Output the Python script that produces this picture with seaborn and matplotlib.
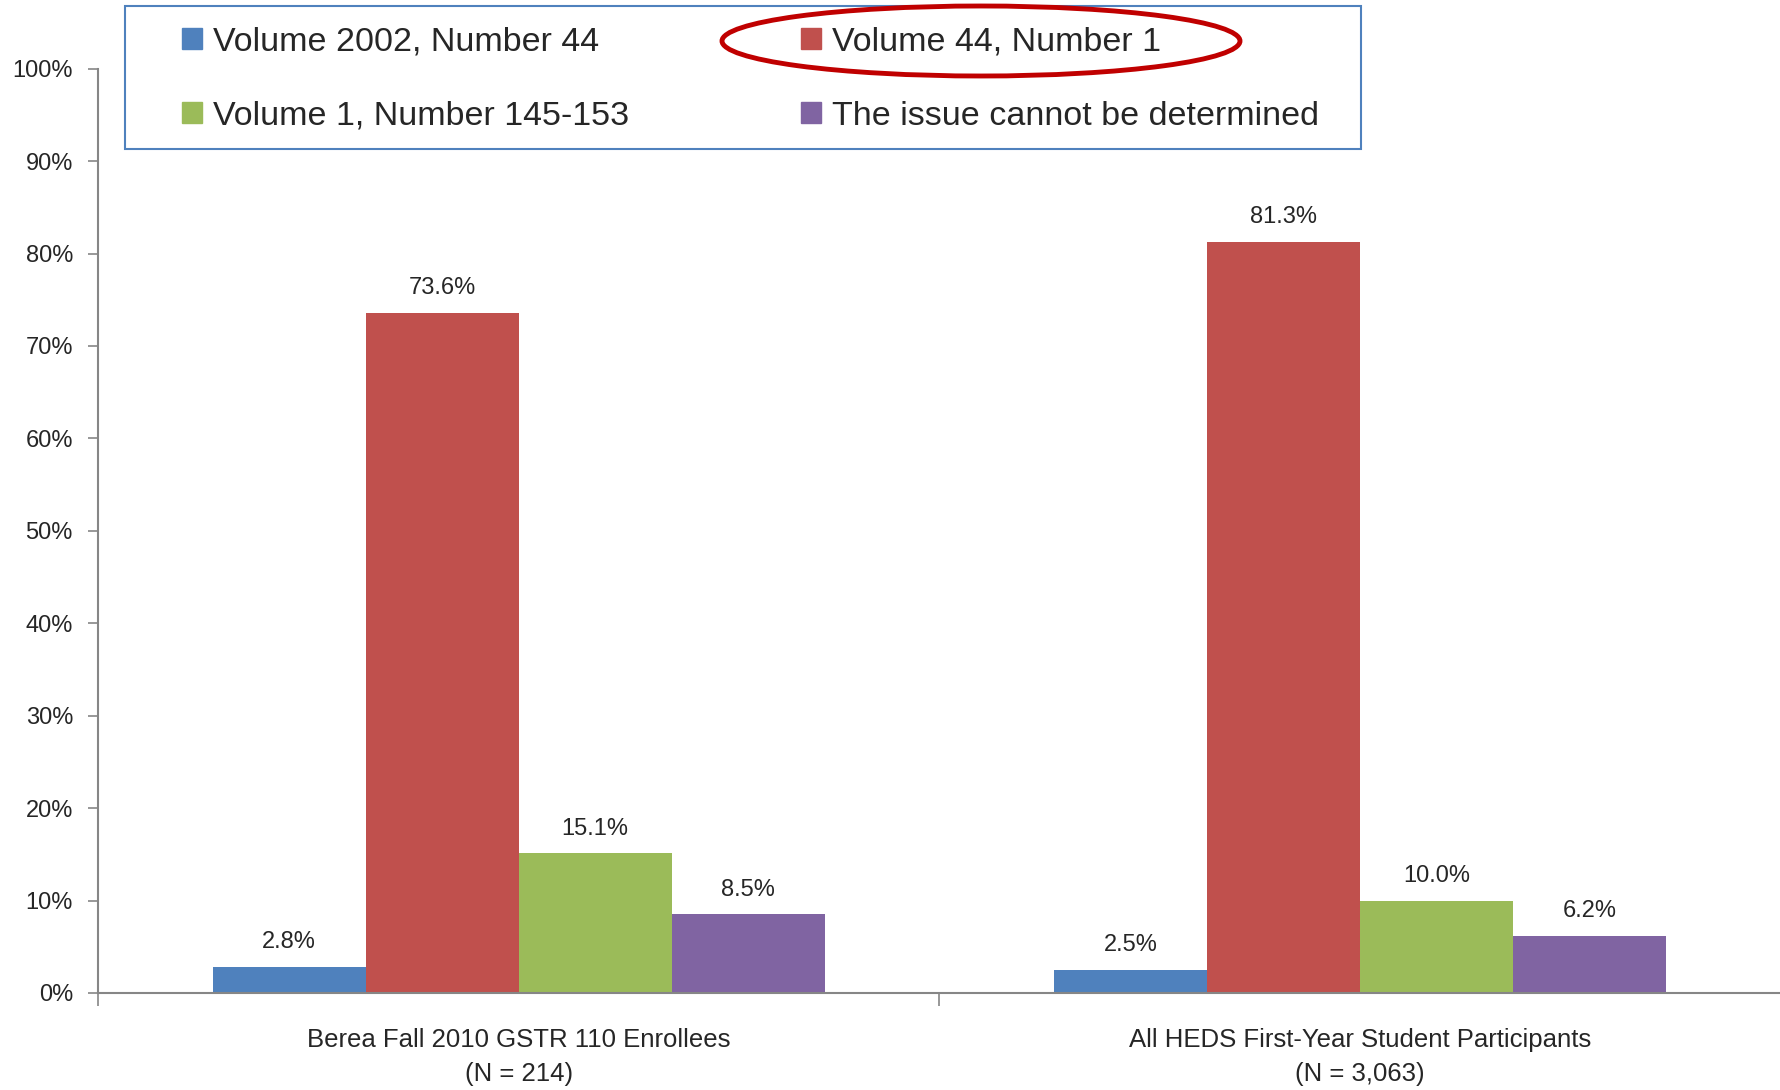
import matplotlib
matplotlib.use("Agg")
import matplotlib.pyplot as plt
import seaborn as sns
import pandas as pd
from matplotlib.patches import Ellipse, Rectangle
from matplotlib.ticker import FuncFormatter

##################################### Data #####################################
groups = ["Berea Fall 2010 GSTR 110 Enrollees\n(N = 214)",
          "All HEDS First-Year Student Participants\n(N = 3,063)"]
series = ["Volume 2002, Number 44", "Volume 44, Number 1",
          "Volume 1, Number 145-153", "The issue cannot be determined"]
berea_values = [2.8, 73.6, 15.1, 8.5]
heds_values = [2.5, 81.3, 10.0, 6.2]
colors = ["#4F81BD", "#C0504D", "#9BBB59", "#8064A2"]

# Long format for seaborn
rows = []
for s, b, h in zip(series, berea_values, heds_values):
    rows.append({"Group": groups[0], "Series": s, "Percent": b})
    rows.append({"Group": groups[1], "Series": s, "Percent": h})
df = pd.DataFrame(rows)

##################################### Plot #####################################
sns.set_style("white")
plt.rcParams["font.family"] = ["Liberation Sans Narrow", "Liberation Sans", "DejaVu Sans"]

W, H = 1781, 1090
fig = plt.figure(figsize=(W / 100, H / 100), dpi=100)
ax = fig.add_axes([0.055, 0.089, 0.945, 0.848])

sns.barplot(data=df, x="Group", y="Percent", hue="Series", hue_order=series,
            palette=colors, saturation=1, width=0.727, gap=0, linewidth=0,
            ax=ax, legend=False)

# Value labels above bars
for cont in ax.containers:
    ax.bar_label(cont, fmt="%.1f%%", padding=10, fontsize=17)

ax.set_ylim(0, 100)
ax.set_xlim(-0.5, 1.5)
ax.set_yticks(range(0, 101, 10))
ax.yaxis.set_major_formatter(FuncFormatter(lambda v, p: f"{v:.0f}%"))
ax.set_xlabel("")
ax.set_ylabel("")
for lab in ax.get_xticklabels():
    lab.set_linespacing(1.55)

# Category boundary ticks
ax.set_xticks([-0.5, 0.5, 1.5], minor=True)
ax.tick_params(axis="x", which="major", length=0, pad=25, labelsize=18.5)
ax.tick_params(axis="x", which="minor", length=9, width=1.2, color="#868686", direction="out")
ax.tick_params(axis="y", length=7, width=1.2, color="#868686", direction="out", labelsize=17, pad=11)
ax.tick_params(bottom=True, left=True, which="both")

for side in ["top", "right"]:
    ax.spines[side].set_visible(False)
for side in ["left", "bottom"]:
    ax.spines[side].set_color("#868686")
    ax.spines[side].set_linewidth(1.5)

# Legend box
box = Rectangle((125 / W, 1 - 149 / H), 1236 / W, 143 / H, transform=fig.transFigure,
                facecolor="white", edgecolor="#4F81BD", linewidth=1.5, zorder=4)
fig.patches.append(box)

# Legend: two columns, row-wise order like the original
handles = [plt.Rectangle((0, 0), 1, 1, color=c) for c in colors]
legend_cols = [(0, 2, 182), (1, 3, 801)]
for i, j, x in legend_cols:
    leg = fig.legend([handles[i], handles[j]], [series[i], series[j]], loc="center left",
                     bbox_to_anchor=(x / W, 1 - 79 / H), fontsize=24.5, frameon=False,
                     handlelength=0.6, handleheight=0.6, handletextpad=0.3,
                     borderpad=0, labelspacing=1.27, borderaxespad=0)
    leg.set_zorder(6)

# Red ellipse around the correct answer
ell = Ellipse((981 / W, 1 - 41 / H), 518 / W, 70 / H,
              transform=fig.transFigure, fill=False, edgecolor="#C00000",
              linewidth=3.5, zorder=10)
fig.patches.append(ell)

plt.savefig("out.png", dpi=100)
